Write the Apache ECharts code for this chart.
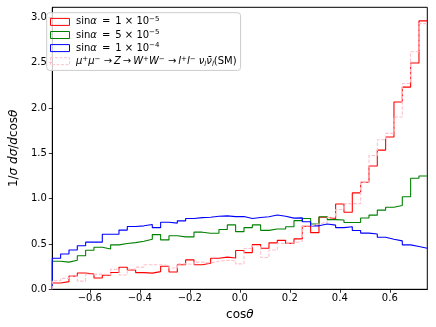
<!DOCTYPE html>
<html>
<head>
<meta charset="utf-8">
<script src="https://cdn.jsdelivr.net/npm/echarts@6/dist/echarts.min.js"></script>
<style>
html,body{margin:0;padding:0;background:#fff;}
#c{width:436px;height:327px;}
</style>
</head>
<body>
<div id="c"></div>
<script>
// 45 bins from -0.75 to 0.75
const binLo = -0.75, binHi = 0.75, nBins = 45;
const red = [0.07, 0.085, 0.145, 0.18, 0.168, 0.125, 0.155, 0.185, 0.243, 0.213, 0.184, 0.178, 0.195, 0.255, 0.19, 0.27, 0.324, 0.27, 0.287, 0.342, 0.355, 0.345, 0.428, 0.405, 0.493, 0.452, 0.512, 0.54, 0.507, 0.556, 0.695, 0.625, 0.795, 0.778, 0.94, 0.85, 1.063, 1.18, 1.36, 1.535, 1.68, 2.065, 2.23, 2.495, 2.96];
const green = [0.31, 0.30, 0.32, 0.37, 0.43, 0.463, 0.445, 0.49, 0.505, 0.515, 0.53, 0.552, 0.603, 0.545, 0.59, 0.578, 0.578, 0.63, 0.618, 0.618, 0.66, 0.71, 0.636, 0.68, 0.71, 0.65, 0.665, 0.665, 0.69, 0.757, 0.78, 0.72, 0.80, 0.768, 0.765, 0.736, 0.736, 0.787, 0.818, 0.873, 0.905, 0.925, 1.02, 1.225, 1.25];
const blue = [0.342, 0.39, 0.434, 0.48, 0.52, 0.52, 0.607, 0.607, 0.653, 0.693, 0.70, 0.715, 0.68, 0.74, 0.73, 0.755, 0.78, 0.79, 0.795, 0.805, 0.81, 0.802, 0.802, 0.78, 0.792, 0.80, 0.82, 0.805, 0.785, 0.788, 0.745, 0.70, 0.72, 0.708, 0.68, 0.69, 0.648, 0.62, 0.61, 0.574, 0.552, 0.534, 0.49, 0.472, 0.453];
const pinkSM = [0.095, 0.12, 0.145, 0.09, 0.165, 0.165, 0.16, 0.22, 0.158, 0.222, 0.245, 0.27, 0.27, 0.265, 0.235, 0.28, 0.275, 0.30, 0.29, 0.31, 0.32, 0.315, 0.28, 0.45, 0.48, 0.35, 0.434, 0.507, 0.51, 0.53, 0.70, 0.72, 0.74, 0.79, 0.88, 0.945, 0.945, 1.18, 1.475, 1.65, 1.72, 1.90, 2.27, 2.62, 2.93];
const xTicks = [-0.6, -0.4, -0.2, 0.0, 0.2, 0.4, 0.6];
const yTicks = [0.0, 0.5, 1.0, 1.5, 2.0, 2.5, 3.0];
const yMax = 3.11;

const legendLabels = {
  a1: '{n|sin}{i|α}{n|\u2002=\u20021 × 10}{sup|−5}',
  a2: '{n|sin}{i|α}{n|\u2002=\u20025 × 10}{sup|−5}',
  a3: '{n|sin}{i|α}{n|\u2002=\u20021 × 10}{sup|−4}',
  sm: '{i|μ}{sup|+}{i|μ}{sup|−}{n| →\u2009}{i|Z}{n|\u2009→\u2009}{i|W}{sup|+}{i|W}{sup|−}{n| →\u2009}{i|l}{sup|+}{i|l}{sup|−}{n| }{i|ν}{sub|l}{i|ν̄}{sub|l}{n|(SM)}'
};

function stepData(vals) {
  const w = (binHi - binLo) / nBins;
  const d = [[binLo, 0]];
  for (let k = 0; k < vals.length; k++) d.push([binLo + k * w, vals[k]]);
  d.push([binHi, vals[vals.length - 1]]);
  return d;
}
function fmt(v) {
  const s = Math.abs(v).toFixed(1);
  return v < -1e-9 ? '\u2212' + s : s;
}

const chart = echarts.init(document.getElementById('c'), null, {renderer: 'canvas'});
const font = 'DejaVu Sans';
const mk = (name, vals, color, dashed) => ({
  name, type: 'line', step: 'end', data: stepData(vals), symbol: 'none',
  lineStyle: {color, width: 1.1, type: dashed ? [3.5, 1.6] : 'solid'},
  itemStyle: {color}, animation: false, silent: true, clip: true
});
const nameRich = {
  n: {fontSize: 12, fontFamily: font, color: '#000'},
  i: {fontSize: 12, fontFamily: font, fontStyle: 'italic', color: '#000'}
};
chart.setOption({
  animation: false,
  backgroundColor: '#fff',
  grid: {left: 42.3, right: 8.7, top: 7.3, bottom: 37.7, show: true, borderColor: '#000', borderWidth: 1, backgroundColor: 'transparent'},
  xAxis: {
    type: 'value', min: binLo, max: binHi,
    axisLine: {show: true, onZero: false, lineStyle: {color: '#000', width: 1}},
    axisTick: {show: true, inside: false, length: 3.5, lineStyle: {color: '#000', width: 0.8}, customValues: xTicks},
    axisLabel: {show: true, customValues: xTicks, formatter: fmt, color: '#000', fontFamily: font, fontSize: 10, margin: 4.5},
    splitLine: {show: false},
    name: '{n|cos}{i|θ}', nameLocation: 'middle', nameGap: 15.5,
    nameTextStyle: {color: '#000', fontFamily: font, rich: nameRich}
  },
  yAxis: {
    type: 'value', min: 0, max: yMax,
    axisLine: {show: true, onZero: false, lineStyle: {color: '#000', width: 1}},
    axisTick: {show: true, inside: false, length: 3.5, lineStyle: {color: '#000', width: 0.8}, customValues: yTicks},
    axisLabel: {show: true, customValues: yTicks, formatter: fmt, color: '#000', fontFamily: font, fontSize: 10, margin: 5.5},
    splitLine: {show: false},
    name: '{n|1/}{i|σ}{n| }{i|dσ}{n|/}{i|d}{n|cos}{i|θ}', nameLocation: 'middle', nameGap: 23, nameRotate: 90,
    nameTextStyle: {color: '#000', fontFamily: font, rich: nameRich}
  },
  legend: {
    show: true, orient: 'vertical', left: 46.7, top: 12.7,
    padding: [3.2, 4, 3.2, 3.3], itemGap: 2.1, itemWidth: 19, itemHeight: 7,
    backgroundColor: 'rgba(255,255,255,0.8)', borderColor: '#cccccc', borderWidth: 1, borderRadius: 3,
    selectedMode: false,
    data: [
      {name: 'a1', icon: 'rect', itemStyle: {color: 'rgba(0,0,0,0)', borderColor: 'red', borderWidth: 1}},
      {name: 'a2', icon: 'rect', itemStyle: {color: 'rgba(0,0,0,0)', borderColor: 'green', borderWidth: 1}},
      {name: 'a3', icon: 'rect', itemStyle: {color: 'rgba(0,0,0,0)', borderColor: 'blue', borderWidth: 1}},
      {name: 'sm', icon: 'rect', itemStyle: {color: 'rgba(0,0,0,0)', borderColor: 'pink', borderWidth: 1, borderType: [3, 1.5]}}
    ],
    formatter: (name) => legendLabels[name],
    textStyle: {
      color: '#000', fontFamily: font, fontSize: 10, padding: [0, 0, 0, 1.5],
      rich: {
        n: {fontSize: 10, fontFamily: font, color: '#000', lineHeight: 12},
        i: {fontSize: 10, fontFamily: font, fontStyle: 'italic', color: '#000', lineHeight: 12},
        sup: {fontSize: 7, fontFamily: font, color: '#000', verticalAlign: 'top', lineHeight: 6},
        sub: {fontSize: 7, fontFamily: font, fontStyle: 'italic', color: '#000', verticalAlign: 'bottom', lineHeight: 6}
      }
    }
  },
  series: [
    mk('a1', red, 'red', false),
    mk('a2', green, 'green', false),
    mk('a3', blue, 'blue', false),
    mk('sm', pinkSM, 'pink', true)
  ]
});
</script>
</body>
</html>
